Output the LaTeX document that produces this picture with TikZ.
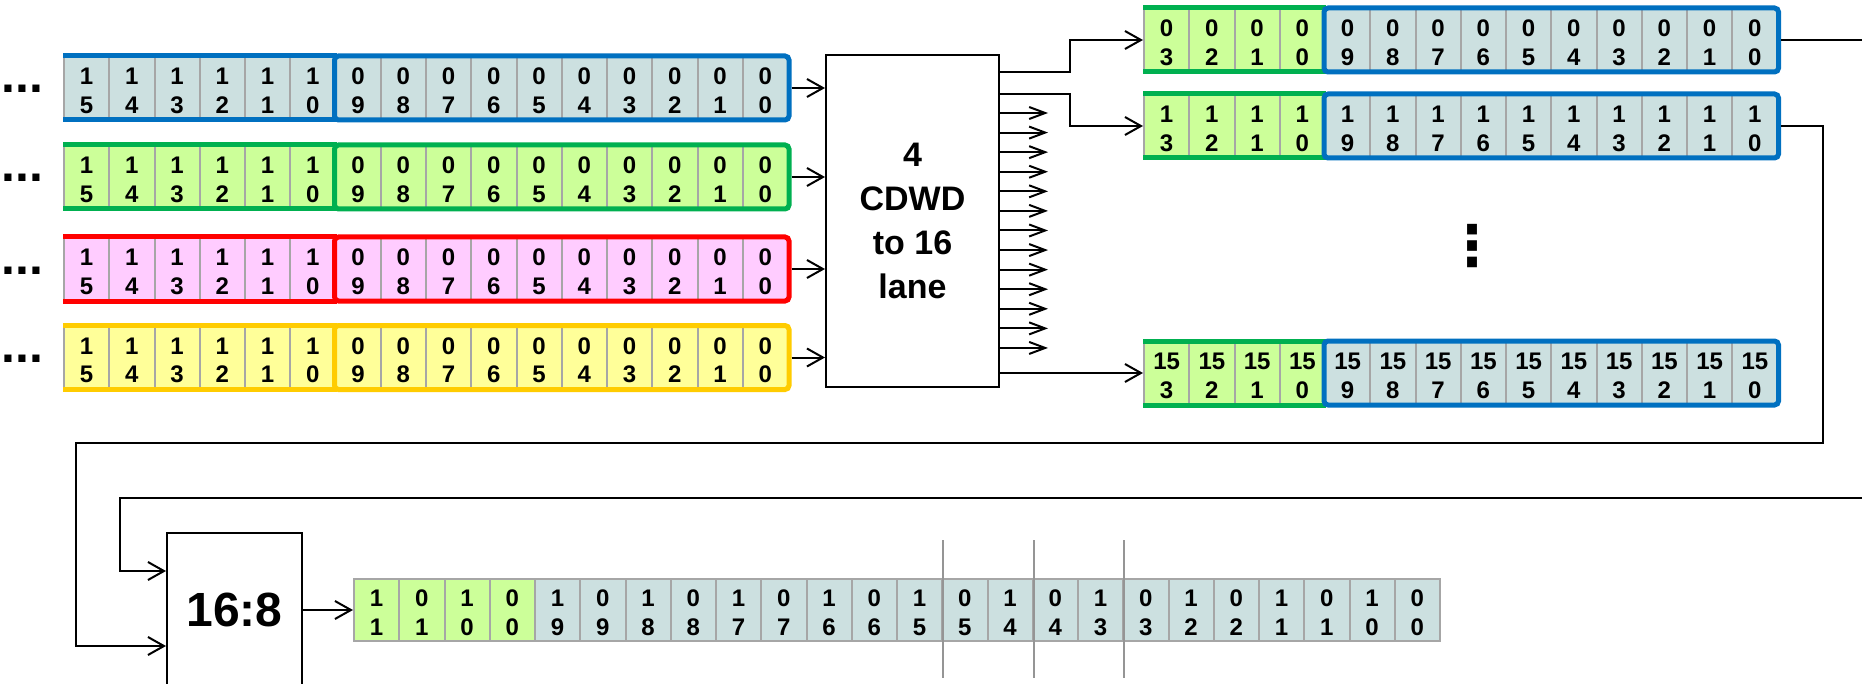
\documentclass[tikz,border=0pt]{standalone}
\usepackage{fontspec}
\setmainfont{Liberation Sans}
\newfontfamily\djv{DejaVu Sans}
\usetikzlibrary{arrows.meta,calc,fit}
\definecolor{cellgray}{HTML}{A6A6A6}
\definecolor{fblue}{HTML}{CCE0E0}
\definecolor{fgreen}{HTML}{CCFF99}
\definecolor{fpink}{HTML}{FFCCFF}
\definecolor{fyellow}{HTML}{FFFF99}
\definecolor{bblue}{HTML}{0070C0}
\definecolor{bgreen}{HTML}{00B050}
\definecolor{bred}{HTML}{FF0000}
\definecolor{bgold}{HTML}{FFCC00}
\newcommand\bitrow[7]{%
  \foreach \dtop/\dbot [count=\i from 0] in {#7}{%
    \ifnum\i<#4\relax\def\ff{#5}\else\def\ff{#6}\fi
    \node[cell, fill=\ff] (#1-\i) at ({#2+45.25*\i+22.625},#3) {\rule{0pt}{11pt}\dtop\\\dbot};
  }}
\newcommand\trimlines[3]{%
  \draw[#2, line width=2.5pt] (#1-0.north west) -- (#1-#3.north east)
    (#1-0.south west) -- (#1-#3.south east);}
\begin{document}
\begin{tikzpicture}[x=0.5pt,y=-0.5pt,
  cell/.style={draw=cellgray, line width=1pt, minimum width=22.625pt, minimum height=31pt,
    inner sep=0pt, align=center, font=\bfseries\fontsize{12}{14.2}\selectfont},
  seg/.style={rounded corners=2pt, line width=2.5pt, inner sep=0pt},
  box/.style={draw, line width=1pt, inner sep=0pt, align=center},
  line/.style={line width=1pt},
  arr/.style={line, -{Straight Barb[length=8pt,width=9pt]}},
  fan/.style={line, -{Straight Barb[length=8pt,width=6pt]}},
  sepline/.style={draw=cellgray!90!black, line width=0.8pt},
  hdots/.style={font=\bfseries\fontsize{25}{25}\selectfont, inner sep=0pt},
  vdots/.style={font=\djv\bfseries\fontsize{28}{28}\selectfont, inner sep=0pt}]
\fill[white] (0,0) rectangle (1862,684);
\useasboundingbox (0,0) rectangle (1862,684);
\clip (0,0) rectangle (1862,684);

% left input rows
\bitrow{L1}{64}{88}{16}{fblue}{fblue}{1/5,1/4,1/3,1/2,1/1,1/0,0/9,0/8,0/7,0/6,0/5,0/4,0/3,0/2,0/1,0/0}
\bitrow{L2}{64}{177}{16}{fgreen}{fgreen}{1/5,1/4,1/3,1/2,1/1,1/0,0/9,0/8,0/7,0/6,0/5,0/4,0/3,0/2,0/1,0/0}
\bitrow{L3}{64}{269}{16}{fpink}{fpink}{1/5,1/4,1/3,1/2,1/1,1/0,0/9,0/8,0/7,0/6,0/5,0/4,0/3,0/2,0/1,0/0}
\bitrow{L4}{64}{357.5}{16}{fyellow}{fyellow}{1/5,1/4,1/3,1/2,1/1,1/0,0/9,0/8,0/7,0/6,0/5,0/4,0/3,0/2,0/1,0/0}
\trimlines{L1}{bblue}{5}
\trimlines{L2}{bgreen}{5}
\trimlines{L3}{bred}{5}
\trimlines{L4}{bgold}{5}
\node[seg, draw=bblue, fit=(L1-6)(L1-15)] (L1) {};
\node[seg, draw=bgreen, fit=(L2-6)(L2-15)] (L2) {};
\node[seg, draw=bred, fit=(L3-6)(L3-15)] (L3) {};
\node[seg, draw=bgold, fit=(L4-6)(L4-15)] (L4) {};
\foreach \r in {1,...,4}
  \node[hdots, anchor=base west] (d\r) at ($(L\r-0.west)+(-62,5)$) {...};

% converter
\node[box, minimum width=86.5pt, minimum height=166pt,
  font=\bfseries\fontsize{17}{22}\selectfont] (cdwd) at (912.5,221) {4\\CDWD\\to 16\\lane};
\foreach \r in {1,...,4}
  \draw[arr] (L\r.east) -- (L\r.east -| cdwd.west);

% right lane rows
\bitrow{R1}{1144}{40}{4}{fgreen}{fblue}{0/3,0/2,0/1,0/0,0/9,0/8,0/7,0/6,0/5,0/4,0/3,0/2,0/1,0/0}
\bitrow{R2}{1144}{126}{4}{fgreen}{fblue}{1/3,1/2,1/1,1/0,1/9,1/8,1/7,1/6,1/5,1/4,1/3,1/2,1/1,1/0}
\bitrow{R3}{1144}{373}{4}{fgreen}{fblue}{15/3,15/2,15/1,15/0,15/9,15/8,15/7,15/6,15/5,15/4,15/3,15/2,15/1,15/0}
\trimlines{R1}{bgreen}{3}
\trimlines{R2}{bgreen}{3}
\trimlines{R3}{bgreen}{3}
\node[seg, draw=bblue, fit=(R1-4)(R1-13)] (R1) {};
\node[seg, draw=bblue, fit=(R2-4)(R2-13)] (R2) {};
\node[seg, draw=bblue, fit=(R3-4)(R3-13)] (R3) {};
\node[vdots] (vd) at (1472,246) {⋮};

% converter outputs
\coordinate (jog) at (1070,0);
\coordinate (o1) at ($(cdwd.north east)+(0,18)$);
\coordinate (o2) at ($(cdwd.north east)+(0,40)$);
\draw[arr] (o1) -- (o1 -| jog) |- (R1-0.west);
\draw[arr] (o2) -- (o2 -| jog) |- (R2-0.west);
\foreach \k in {0,...,12}
  \draw[fan] ($(cdwd.north east)+(0,59+19.58*\k)$) -- ++(48,0);
\draw[arr] (cdwd.east |- R3-0.west) -- (R3-0.west);

% 16:8 mux
\node[box, minimum width=67.5pt, minimum height=77pt,
  font=\bfseries\fontsize{24}{24}\selectfont] (mux) at (234.5,610) {16:8};
\coordinate (exA) at (1862,40);
\draw[line] (R1.east) -- (exA);
\coordinate (lpR) at (1823,443);
\coordinate (lpL) at (76,443);
\draw[arr] (R2.east) -| (lpR) -- (lpL) |- ($(mux.north west)+(0,114)$);
\coordinate (enA) at (1862,498);
\coordinate (inL) at (120,498);
\draw[arr] (enA) -- (inL) |- ($(mux.north west)+(0,39)$);

% output row
\bitrow{Bo}{354}{610}{4}{fgreen}{fblue}{1/1,0/1,1/0,0/0,1/9,0/9,1/8,0/8,1/7,0/7,1/6,0/6,1/5,0/5,1/4,0/4,1/3,0/3,1/2,0/2,1/1,0/1,1/0,0/0}
\draw[arr] (mux.east) -- (mux.east -| Bo-0.west);
\foreach \k in {12,14,16}
  \draw[sepline] ($(Bo-\k.north east)+(0,-38)$) -- ($(Bo-\k.south east)+(0,36)$);
\end{tikzpicture}
\end{document}
